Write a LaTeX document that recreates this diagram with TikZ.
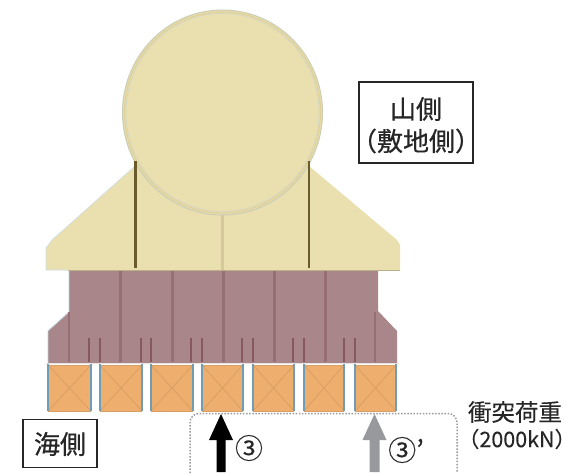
\documentclass[tikz,border=0pt]{standalone}
\usepackage{fontspec}
\newfontfamily\cjk[FakeBold=0.5]{Noto Sans CJK JP}
\newfontfamily\cjklight[FakeBold=0.2]{Noto Sans CJK JP}
\definecolor{sand}{HTML}{EADFAF}
\definecolor{sandedge}{HTML}{E0D199}
\definecolor{ringblue}{HTML}{C9CDB4}
\definecolor{centerline}{HTML}{D5C99C}
\definecolor{maroon}{HTML}{A98689}
\definecolor{rib}{HTML}{966F74}
\definecolor{ribdark}{HTML}{85595F}
\definecolor{crate}{HTML}{EDAE6E}
\definecolor{crateline}{HTML}{D99E63}
\definecolor{post}{HTML}{6F9DB5}
\definecolor{strut}{HTML}{6B5A2A}
\definecolor{textdark}{HTML}{262626}
\definecolor{loadgrey}{HTML}{97999C}
\tikzset{
  labelbox/.style={draw=textdark,line width=1.4pt,fill=white,inner sep=0pt},
  labeltext/.style={text=textdark,inner sep=0pt,font=\cjk\fontsize{26}{26}\selectfont},
  loadtext/.style={text=textdark,inner sep=0pt,font=\cjklight\fontsize{23.5}{23.5}\selectfont},
  circledtext/.style={text=textdark,inner sep=0pt,font=\cjklight\fontsize{28}{28}\selectfont},
  ribline/.style={draw=rib,line width=3pt},
  shortrib/.style={draw=ribdark,line width=2pt},
}
\begin{document}
\begin{tikzpicture}[x=1pt,y=-1pt]
\useasboundingbox (0,0) rectangle (580,474);
% lower body
\fill[maroon] (69,270) -- (378,270) -- (378,311) -- (397,331) -- (397,363) -- (48,363) -- (48,331) -- (69,312) -- cycle;
\draw[post!45!white,line width=0.7pt] (69,271) -- (69,312) -- (48,331) -- (48,363);
\foreach \x in {120,172,223,274,325}{\draw[ribline] (\x,270) -- (\x,362);}
\foreach \x in {69,375}{\draw[ribline,line width=2.4pt] (\x,312) -- (\x,362);}
\foreach \x in {89,100,141,151,191,202,242,253,293,304,344,355}{\draw[shortrib] (\x,338) -- (\x,362);}
\draw[white!75!maroon,line width=1.2pt] (46,363.5) -- (399,363.5);
% upper body
\fill[sand] (135,166) -- (309,166) -- (397,240) -- (400,245) -- (400,270) -- (46,270) -- (46,248) -- (52,240) -- cycle;
\draw[post!35!white,line width=0.6pt] (135,166) -- (52,240) -- (46,248) -- (46,270) -- (68,270);
\draw[sandedge!80!black!90,line width=0.8pt] (68,270) -- (400,270);
\draw[centerline,line width=2.2pt] (222.5,215) -- (222.5,270);
% drum
\fill[sand] (222.5,112.5) ellipse [x radius=100,y radius=102.5];
\draw[ringblue,line width=1pt] (222.5,112.5) ellipse [x radius=100,y radius=102.5];
\draw[sandedge,line width=1.2pt] (222.5,112.5) ellipse [x radius=98,y radius=100.5];
\draw[ringblue!80!white,line width=0.7pt] (222.5,112.5) ellipse [x radius=96.5,y radius=99];
% struts
\draw[strut,line width=2.3pt] (135.5,161) -- (135.5,268);
\draw[strut,line width=2.3pt] (309,161) -- (309,268);
% crates
\foreach \a/\b in {48/91,100/142,151/193,202/243,253/294,304/344,355/396}{
  \fill[crate] (\a,365) rectangle (\b,411);
  \draw[crateline,line width=0.7pt] (\a,365) -- (\b,411) (\b,365) -- (\a,411);
  \draw[crateline,line width=0.8pt] (\a,365) -- (\b,365) (\a,411) -- (\b,411);
  \draw[post,line width=1.3pt] (\a,364) -- (\a,411) (\b,364) -- (\b,411);
}
% load zone
\draw[loadgrey,line width=1.5pt,dash pattern=on 1.5pt off 1.6pt,rounded corners=9pt] (190,473) -- (190,413.5) -- (457,413.5) -- (457,473);
% load arrows
\fill[black] (221,414) -- (233,440) -- (225.5,440) -- (225.5,472) -- (216.5,472) -- (216.5,440) -- (209,440) -- cycle;
\fill[loadgrey] (374.5,414) -- (386.5,440) -- (379.5,440) -- (379.5,472) -- (369.5,472) -- (369.5,440) -- (362.5,440) -- cycle;
% labels
\node[labelbox,minimum width=114pt,minimum height=81pt] (mountainbox) at (416,122.5) {};
\node[labeltext] (mountain) at (416,109) {山側};
\node[labeltext] (site) at (416,141) {（敷地側）};
\node[labelbox,minimum width=74pt,minimum height=48pt] (seabox) at (60,443.5) {};
\node[labeltext] (sea) at (60,444) {海側};
\node[circledtext] (three) at (249,448) {③};
\node[circledtext,anchor=west] (threeprime) at (388,450) {③’};
\node[loadtext] (load) at (515,412) {衝突荷重};
\node[text=textdark,inner sep=0pt,font=\cjklight\fontsize{21.5}{21.5}\selectfont] (kn) at (517,439) {（2000kN）};
\end{tikzpicture}
\end{document}
